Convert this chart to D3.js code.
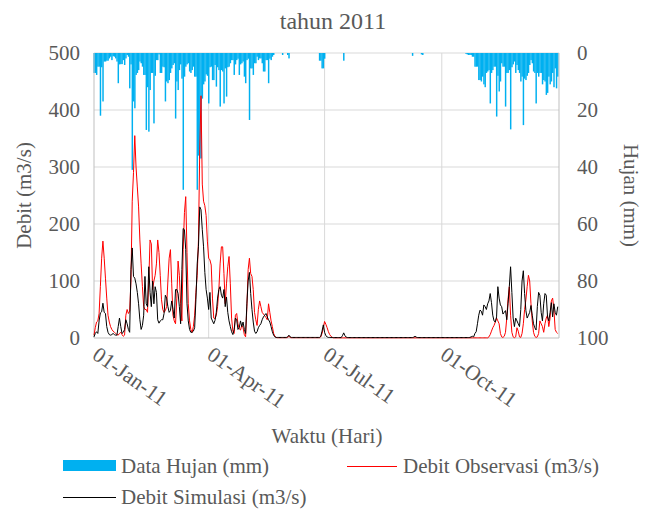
<!DOCTYPE html>
<html>
<head>
<meta charset="utf-8">
<script src="https://cdn.jsdelivr.net/npm/d3@7"></script>
<style>
  body { margin: 0; background: #fff; }
</style>
</head>
<body>
<div id="chart"></div>
<script>
// daily values for 2011, one line per month

const hujan = [
  7, 7, 7.7, 4.8, 4.8, 22, 5, 17, 3, 3, 2.7, 2.7, 1.9, 1.3, 2.5, 1.1, 1.3, 1.9, 3, 10.6, 4, 3.9, 3.9, 2.5, 4.2, 1.9, 0.7, 1.3, 12.4, 4, 41,
  17, 19.4, 7.7, 7, 6, 3, 3.6, 4.8, 7.7, 7.7, 27, 12, 27.6, 13, 7, 7, 24.7, 8, 2.5, 2.5, 0.5, 7, 7, 4.8, 5, 17, 10, 10.6,
  9.5, 7, 5.4, 4.2, 3.6, 23, 10, 13, 6, 4, 9, 48, 8.3, 4.8, 4, 3.6, 6.5, 7, 6, 4.8, 8.3, 8.3, 48, 36, 37, 37, 16, 11, 10, 7.5, 8,
  17.7, 5, 4.8, 9.5, 9.5, 4.2, 11.8, 5, 6, 18.8, 6, 6.5, 17.7, 5.4, 15.3, 5, 4.8, 3.6, 2.5, 2.5, 7.7, 4, 2.5, 2, 7.7, 4, 3.6, 3, 8.3, 10.6,
  2.5, 2, 23.5, 5.4, 5.4, 7.7, 3.6, 3.6, 1.3, 2.5, 1.9, 1.9, 3.6, 6.5, 6.5, 2.5, 2.5, 10.6, 2, 2.5, 1.3, 0.7, 0, 0, 0, 0, 0, 0, 0.7, 0, 0,
  0, 0.7, 1.9, 0, 0, 0, 0, 0, 0, 0, 0, 0, 0, 0, 0, 0, 0, 0, 0, 0, 0, 0, 0, 0, 0, 0, 2.7, 2.7, 5.4, 5.4,
  2, 0, 0, 0, 0, 0, 0, 0, 0, 0, 0, 0, 0, 0, 0, 2.7, 0, 0, 0, 0, 0, 0, 0, 0, 0, 0, 0, 0, 0, 0, 0,
  0, 0, 0, 0, 0, 0, 0, 0, 0, 0, 0, 0, 0, 0, 0, 0, 0, 0, 0, 0, 0, 0, 0, 0, 0, 0, 0, 0, 0, 0, 0,
  0, 0, 0, 0, 0, 0, 0, 1, 0, 0, 0, 0, 0, 0, 0.5, 0.7, 0, 0, 0, 0, 0, 0, 0, 0, 0, 0, 0, 0, 0, 0,
  0, 0, 0, 0, 0, 0, 0, 0, 0, 0, 0, 0, 0, 0, 0, 0, 0, 0, 0, 0.3, 0.5, 0.7, 0.7, 0.7, 1.3, 1.3, 4.8, 4.8, 4.8, 9.5, 9.5,
  10, 8.3, 11, 12, 7, 6.5, 6, 17.7, 7, 6, 4.8, 4.8, 22.3, 8, 13.5, 10, 3.6, 4.8, 4.8, 18.8, 7, 7, 6, 26.8, 5, 4, 3, 7, 4.2, 6,
  7, 10, 8.3, 25.3, 9, 9.5, 8, 7, 4.2, 2.5, 3.6, 6.5, 7, 17.7, 7, 8.3, 7, 7, 11, 9.5, 10, 14.7, 14, 8.3, 11, 10, 7, 12, 5.4, 12.4, 8.3
];

const debitObservasi = [
  5, 18, 28, 30, 43, 90, 140, 170, 140, 105, 70, 40, 28, 20, 15, 12, 10, 8, 6, 5, 8, 10, 6, 3, 5, 40, 50, 43, 47, 100, 240,
  290, 355, 300, 265, 230, 172, 130, 90, 55, 50, 50, 45, 100, 172, 165, 85, 100, 110, 130, 172, 150, 110, 67, 50, 45, 48, 55, 100,
  140, 155, 95, 40, 30, 25, 70, 135, 110, 60, 30, 155, 220, 248, 150, 60, 30, 15, 10, 20, 40, 80, 110, 172, 330, 425, 270, 240, 232, 215, 170,
  140, 137, 128, 70, 35, 34, 40, 55, 85, 130, 160, 160, 113, 60, 95, 125, 143, 95, 35, 12, 8, 40, 43, 25, 16, 14, 22, 18, 6, 2,
  55, 120, 140, 113, 108, 85, 45, 32, 22, 50, 65, 55, 45, 42, 39, 36, 32, 60, 45, 30, 20, 8, 3, 1, 0.5, 0.5, 0.5, 0.5, 0.5, 0.5, 0.5,
  0.5, 1, 3, 1, 0.5, 0.5, 0.5, 0.5, 0.5, 0.5, 0.5, 0.5, 0.5, 0.5, 0.5, 0.5, 0.5, 0.5, 0.5, 0.5, 0.5, 0.5, 0.5, 0.5, 0.5, 0.5, 0.5, 2, 8, 18,
  29, 24, 18, 11, 6, 3, 1, 0.3, 0.3, 0.3, 0.3, 0.3, 0.3, 0.3, 0.3, 0.3, 0.3, 0.3, 0.3, 0.3, 0.3, 0.3, 0.3, 0.3, 0.3, 0.3, 0.3, 0.3, 0.3, 0.3, 0.3,
  0.3, 0.3, 0.3, 0.3, 0.3, 0.3, 0.3, 0.3, 0.3, 0.3, 0.3, 0.3, 0.3, 0.3, 0.3, 0.3, 0.3, 0.3, 0.3, 0.3, 0.3, 0.3, 0.3, 0.3, 0.3, 0.3, 0.3, 0.3, 0.3, 0.3, 0.3,
  0.3, 0.3, 0.3, 0.3, 0.3, 0.3, 0.3, 0.3, 0.3, 0.3, 0.3, 0.3, 0.3, 0.3, 0.3, 0.3, 0.3, 0.3, 0.3, 0.3, 0.3, 0.3, 0.3, 0.3, 0.3, 0.3, 0.3, 0.3, 0.3, 0.3,
  0.3, 0.3, 0.3, 0.3, 0.3, 0.3, 0.3, 0.3, 0.3, 0.3, 0.3, 0.3, 0.3, 0.3, 0.3, 0.3, 0.3, 0.3, 0.3, 0.3, 0.3, 0.3, 0.3, 0.3, 0.3, 0.3, 0.3, 0.3, 0.3, 0.3, 0.3,
  0.3, 0.3, 0.3, 0.3, 0.3, 0.3, 2, 6, 12, 18, 22, 28, 35, 30, 25, 8, 2, 1, 3, 10, 35, 68, 90, 40, 10, 2, 0.5, 2, 18, 12,
  2, 1, 8, 25, 50, 67, 90, 110, 100, 60, 30, 10, 3, 1, 2, 8, 30, 25, 20, 10, 25, 35, 40, 20, 35, 65, 70, 50, 15, 10, 8
];

const debitSimulasi = [
  2, 8, 11, 8, 30, 44, 46, 61, 45, 43, 20, 10, 6, 5, 6, 8, 6, 5, 5, 20, 35, 20, 8, 10, 15, 32, 25, 15, 10, 120, 158,
  108, 105, 95, 80, 60, 32, 15, 22, 40, 108, 60, 55, 125, 80, 55, 100, 60, 90, 80, 32, 26, 30, 32, 32, 43, 75, 70, 55,
  45, 48, 65, 50, 35, 85, 85, 78, 55, 25, 120, 192, 190, 155, 60, 30, 15, 10, 10, 12, 18, 67, 130, 160, 230, 225, 190, 160, 115, 85, 70,
  50, 80, 35, 30, 25, 31, 45, 70, 85, 90, 75, 70, 85, 55, 72, 45, 30, 20, 11, 6, 15, 35, 32, 15, 18, 30, 20, 28, 15, 8,
  60, 100, 115, 78, 50, 28, 12, 8, 11, 18, 22, 25, 32, 37, 40, 43, 37, 32, 28, 20, 11, 5, 2, 1, 1, 1, 1, 1, 1, 1, 1,
  1, 2, 5, 2, 1, 1, 1, 1, 1, 1, 1, 1, 1, 1, 1, 1, 1, 1, 1, 1, 1, 1, 1, 1, 1, 1, 1, 3, 12, 23,
  10, 4, 2, 1, 1, 1, 1, 0.8, 0.8, 0.8, 0.8, 0.8, 0.8, 0.8, 4, 9, 4, 1.5, 0.8, 0.8, 0.8, 0.8, 0.8, 0.8, 0.8, 0.8, 0.8, 0.8, 0.8, 0.8, 0.8,
  0.8, 0.8, 0.8, 0.8, 0.8, 0.8, 0.8, 0.8, 0.8, 0.8, 0.8, 0.8, 0.8, 0.8, 0.8, 0.8, 0.8, 0.8, 0.8, 0.8, 0.8, 0.8, 0.8, 0.8, 0.8, 0.8, 0.8, 0.8, 0.8, 0.8, 0.8,
  0.8, 0.8, 0.8, 0.8, 0.8, 0.8, 0.8, 0.8, 1.5, 3, 1.5, 0.8, 0.8, 0.8, 0.8, 0.8, 0.8, 0.8, 0.8, 0.8, 0.8, 0.8, 0.8, 0.8, 0.8, 0.8, 0.8, 0.8, 0.8, 0.8,
  0.8, 0.8, 0.8, 0.8, 0.8, 0.8, 0.8, 0.8, 0.8, 0.8, 0.8, 0.8, 0.8, 0.8, 0.8, 0.8, 0.8, 0.8, 0.8, 0.8, 0.8, 0.8, 1, 2, 3, 2, 8, 11, 25, 40, 49,
  47, 40, 58, 55, 50, 60, 65, 78, 62, 40, 30, 28, 37, 90, 70, 58, 55, 42, 45, 48, 32, 60, 90, 125, 80, 35, 20, 35, 30, 25,
  20, 50, 100, 118, 78, 48, 35, 40, 45, 57, 40, 25, 18, 14, 55, 80, 75, 45, 30, 60, 78, 75, 37, 30, 45, 62, 37, 60, 45, 40, 55
];

const tickDebit = [0, 100, 200, 300, 400, 500];
const tickHujan = [0, 20, 40, 60, 80, 100];
const tickTanggal = ["2011-01-01", "2011-04-01", "2011-07-01", "2011-10-01"];

const width = 649, height = 510;
const plotLeft = 94, plotRight = 559, plotTop = 53, plotBottom = 338;
const textColor = "#595959";
const font = "'Liberation Serif', 'Times New Roman', serif";

const days = d3.timeDay.range(new Date(2011, 0, 1), new Date(2012, 0, 1));

const svg = d3.select("#chart")
    .append("svg")
    .attr("width", width)
    .attr("height", height)
    .attr("font-family", font)
    .attr("fill", textColor);

const x = d3.scaleTime()
    .domain([new Date(2011, 0, 1), new Date(2012, 0, 1)])
    .range([plotLeft, plotRight]);

const yQ = d3.scaleLinear().domain([0, 500]).range([plotBottom, plotTop]);
const yR = d3.scaleLinear().domain([0, 100]).range([plotTop, plotBottom]);

const tanggal = tickTanggal.map(d3.timeParse("%Y-%m-%d"));

// gridlines
svg.append("g")
    .selectAll("line")
    .data(tickDebit.slice(1))
    .enter().append("line")
    .attr("x1", plotLeft).attr("x2", plotRight)
    .attr("y1", d => yQ(d)).attr("y2", d => yQ(d))
    .attr("stroke", "#d9d9d9");

svg.append("g")
    .selectAll("line")
    .data(tanggal.slice(1))
    .enter().append("line")
    .attr("x1", d => x(d)).attr("x2", d => x(d))
    .attr("y1", plotTop).attr("y2", plotBottom)
    .attr("stroke", "#d9d9d9");

// rain bars hanging from the top
const dayW = x(days[1]) - x(days[0]);
svg.append("g")
    .attr("fill", "#00b0f0")
    .selectAll("rect")
    .data(days)
    .enter().append("rect")
    .attr("x", d => x(d) - dayW * 0.5)
    .attr("y", plotTop)
    .attr("width", dayW + 0.2)
    .attr("height", (d, i) => yR(hujan[i]) - plotTop);

// axis lines
svg.append("path")
    .attr("d", `M${plotLeft},${plotTop}V${plotBottom}H${plotRight}V${plotTop}`)
    .attr("fill", "none")
    .attr("stroke", "#bfbfbf");

// discharge lines
const line = v => d3.line()
    .x((d, i) => x(days[i]))
    .y(d => yQ(d))(v);

svg.append("path")
    .attr("d", line(debitObservasi))
    .attr("fill", "none")
    .attr("stroke", "#ff0000")
    .attr("stroke-width", 1);

svg.append("path")
    .attr("d", line(debitSimulasi))
    .attr("fill", "none")
    .attr("stroke", "#000000")
    .attr("stroke-width", 1);

// y tick labels
svg.append("g")
    .attr("font-size", 21)
    .attr("text-anchor", "end")
    .selectAll("text")
    .data(tickDebit)
    .enter().append("text")
    .attr("x", 80)
    .attr("y", d => yQ(d))
    .attr("dy", "0.35em")
    .text(d => d);

svg.append("g")
    .attr("font-size", 21)
    .attr("text-anchor", "start")
    .selectAll("text")
    .data(tickHujan)
    .enter().append("text")
    .attr("x", 577)
    .attr("y", d => yR(d))
    .attr("dy", "0.35em")
    .text(d => d);

// x tick labels, slanted
const fmt = d3.timeFormat("%d-%b-%y");
svg.append("g")
    .attr("font-size", 21.5)
    .selectAll("text")
    .data(tanggal)
    .enter().append("text")
    .attr("transform", d => `translate(${x(d) + 6},${345})rotate(35)`)
    .attr("dy", "0.72em")
    .text(d => fmt(d));

// titles
svg.append("text")
    .attr("x", 333).attr("y", 29)
    .attr("text-anchor", "middle")
    .attr("font-size", 24)
    .text("tahun 2011");

svg.append("text")
    .attr("transform", `translate(31,${(plotTop + plotBottom) / 2})rotate(-90)`)
    .attr("text-anchor", "middle")
    .attr("font-size", 21)
    .text("Debit (m3/s)");

svg.append("text")
    .attr("transform", `translate(624,${(plotTop + plotBottom) / 2})rotate(90)`)
    .attr("text-anchor", "middle")
    .attr("font-size", 21)
    .text("Hujan (mm)");

svg.append("text")
    .attr("x", 327).attr("y", 443)
    .attr("text-anchor", "middle")
    .attr("font-size", 21)
    .text("Waktu (Hari)");

// legend
const legend = svg.append("g").attr("font-size", 21);

legend.append("rect")
    .attr("x", 63).attr("y", 460)
    .attr("width", 53).attr("height", 11)
    .attr("fill", "#00b0f0");
legend.append("text")
    .attr("x", 121).attr("y", 473)
    .text("Data Hujan (mm)");

legend.append("line")
    .attr("x1", 347).attr("x2", 397)
    .attr("y1", 466.5).attr("y2", 466.5)
    .attr("stroke", "#ff0000");
legend.append("text")
    .attr("x", 403).attr("y", 473)
    .text("Debit Observasi (m3/s)");

legend.append("line")
    .attr("x1", 63).attr("x2", 116)
    .attr("y1", 497.5).attr("y2", 497.5)
    .attr("stroke", "#000000");
legend.append("text")
    .attr("x", 121).attr("y", 504)
    .text("Debit Simulasi (m3/s)");
</script>
</body>
</html>
